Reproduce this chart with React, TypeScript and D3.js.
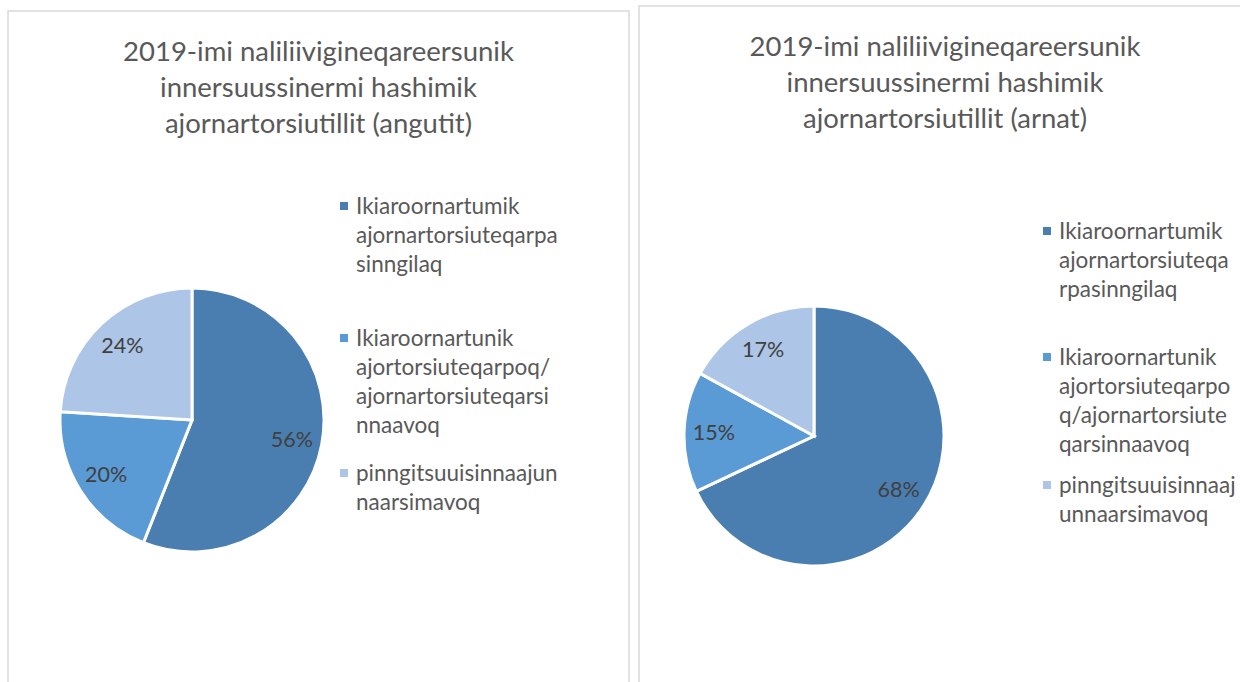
import React from "react";
import * as d3 from "d3";

// slice order as drawn (clockwise from 12 o'clock)
const categories = [
  "Ikiaroornartumik ajornartorsiuteqarpasinngilaq",
  "Ikiaroornartunik ajortorsiuteqarpoq/ajornartorsiuteqarsinnaavoq",
  "pinngitsuuisinnaajunnaarsimavoq",
];
const colors = ["#4a7eb0", "#5b9bd5", "#adc5e6"];

const menValues = [56, 20, 24];
const womenValues = [68, 15, 17];

const menTitle = [
  "2019-imi naliliivigineqareersunik",
  "innersuussinermi hashimik",
  "ajornartorsiutillit (angutit)",
];
const womenTitle = [
  "2019-imi naliliivigineqareersunik",
  "innersuussinermi hashimik",
  "ajornartorsiutillit (arnat)",
];

// legend text is wrapped by character, like the original
const menLegend = [
  ["Ikiaroornartumik", "ajornartorsiuteqarpa", "sinngilaq"],
  ["Ikiaroornartunik", "ajortorsiuteqarpoq/", "ajornartorsiuteqarsi", "nnaavoq"],
  ["pinngitsuuisinnaajun", "naarsimavoq"],
];
const womenLegend = [
  ["Ikiaroornartumik", "ajornartorsiuteqa", "rpasinngilaq"],
  ["Ikiaroornartunik", "ajortorsiuteqarpo", "q/ajornartorsiute", "qarsinnaavoq"],
  ["pinngitsuuisinnaaj", "unnaarsimavoq"],
];

const FONT = "Lato, 'Open Sans', sans-serif";

const PieChart = ({ x, y, width, title, titleTop, values, legend, cx, cy, r, legendX, legendTops }) => {
  const pie = d3.pie<number>().sort(null).value((d) => d);
  const arcs = pie(values);
  const arc = d3.arc<d3.PieArcDatum<number>>().innerRadius(0).outerRadius(r);
  const labelArc = d3
    .arc<d3.PieArcDatum<number>>()
    .innerRadius(r * 0.77)
    .outerRadius(r * 0.77);

  return (
    <g>
      <rect
        x={x}
        y={y}
        width={width}
        height={720}
        fill="#fff"
        stroke="#d9d9d9"
        strokeWidth={1.5}
      />
      <text
        x={x + width / 2}
        textAnchor="middle"
        fill="#595959"
        fontSize={27.5}
        fontFamily={FONT}
      >
        {title.map((line, i) => (
          <tspan key={i} x={x + width / 2} y={titleTop + i * 36}>
            {line}
          </tspan>
        ))}
      </text>
      <g transform={`translate(${cx},${cy})`}>
        {arcs.map((a, i) => (
          <path key={i} d={arc(a) || ""} fill={colors[i]} stroke="#fff" strokeWidth={3} />
        ))}
        {arcs.map((a, i) => {
          const [lx, ly] = labelArc.centroid(a);
          return (
            <text
              key={i}
              x={lx}
              y={ly}
              dy="0.35em"
              textAnchor="middle"
              fill="#404040"
              fontSize={21.5}
              fontFamily={FONT}
            >
              {a.data}%
            </text>
          );
        })}
      </g>
      {legend.map((lines, i) => (
        <g key={i}>
          <rect x={legendX} y={legendTops[i] - 4} width={8} height={8} fill={colors[i]} />
          <text fill="#595959" fontSize={22.5} fontFamily={FONT}>
            {lines.map((line, j) => (
              <tspan key={j} x={legendX + 16} y={legendTops[i] + j * 29} dy="0.35em">
                {line}
              </tspan>
            ))}
          </text>
        </g>
      ))}
    </g>
  );
};

export default function App() {
  return (
    <svg
      width={1240}
      height={682}
      style={{ position: "absolute", left: 0, top: 0, background: "#fff" }}
    >
      <rect width={1240} height={682} fill="#fff" />
      <PieChart
        x={8}
        y={11}
        width={621}
        title={menTitle}
        titleTop={61}
        values={menValues}
        legend={menLegend}
        cx={192}
        cy={420}
        r={132}
        legendX={340}
        legendTops={[206, 338, 473]}
      />
      <PieChart
        x={639}
        y={6}
        width={612}
        title={womenTitle}
        titleTop={56}
        values={womenValues}
        legend={womenLegend}
        cx={814}
        cy={436}
        r={130}
        legendX={1043}
        legendTops={[231, 357, 485]}
      />
    </svg>
  );
}
